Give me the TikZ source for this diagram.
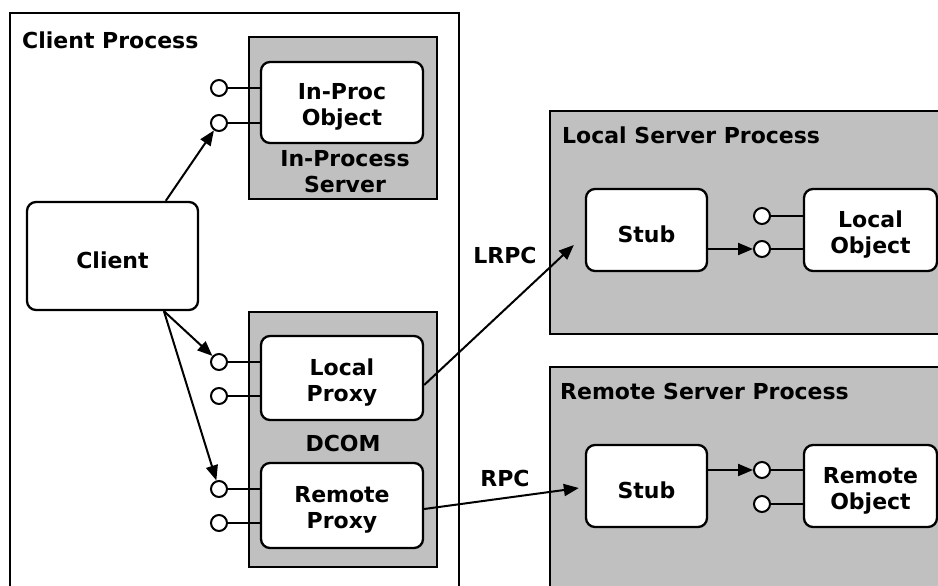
\documentclass[tikz,border=0pt]{standalone}
\usepackage{fontspec}
\setmainfont{DejaVu Sans}
\usetikzlibrary{arrows.meta,calc}
\definecolor{procgray}{HTML}{C0C0C0}
% invisible strut that lowers box labels a little
\newcommand{\lowr}{\rule{0pt}{25pt}}
\begin{document}
\begin{tikzpicture}[x=1pt,y=-1pt,
  lbl/.style={font=\fontsize{22}{26}\selectfont\bfseries, align=center, inner sep=0pt},
  title/.style={lbl, anchor=west},
  procbox/.style={draw=black, line width=2.3pt, fill=procgray},
  objbox/.style={draw=black, line width=2.3pt, fill=white, rounded corners=9pt,
    lbl, minimum width=#1},
  objbox/.default=162pt,
  iface/.style={circle, draw=black, line width=2pt, fill=white, inner sep=0pt, minimum size=16pt},
  stem/.style={line width=2.2pt},
  arr/.style={line width=2pt, -{Triangle[length=15pt,width=12pt]}}
]
\useasboundingbox (0,0) rectangle (938,586);
\clip (0,0) rectangle (938,586);
\fill[white] (0,0) rectangle (938,586);

% process containers
\draw[line width=2.3pt] (10,13) rectangle (459,610);
\node[title] (cpt) at (22,40) {Client Process};
\draw[procbox] (249,37) rectangle (437,199);
\draw[procbox] (249,312) rectangle (437,567);
\draw[procbox] (550,111) rectangle (950,334);
\draw[procbox] (550,367) rectangle (950,610);
\node[title] (lspt) at (562,135) {Local Server Process};
\node[title] (rspt) at (560,391) {Remote Server Process};

\node[lbl] (ipst) at (345,172) {In-Process\\Server};
\node[lbl] (dcomt) at (343,443) {DCOM};

% objects
\node[objbox, minimum height=81pt] (inproc) at (342,102.5) {\lowr In-Proc\\Object};
\node[objbox, minimum height=84pt] (lproxy) at (342,378) {\lowr Local\\Proxy};
\node[objbox, minimum height=85pt] (rproxy) at (342,505.5) {\lowr Remote\\Proxy};
\node[objbox=171pt, minimum height=108pt] (client) at (112.5,256) {\lowr Client};
\node[objbox=121pt, minimum height=82pt] (stubL) at (646.5,230) {\lowr Stub};
\node[objbox=133pt, minimum height=82pt] (lobj) at (870.5,230) {\lowr Local\\Object};
\node[objbox=121pt, minimum height=82pt] (stubR) at (646.5,486) {\lowr Stub};
\node[objbox=133pt, minimum height=82pt] (robj) at (870.5,486) {\lowr Remote\\Object};

% interfaces (lollipops)
\node[iface] (ip1) at (219,88) {};
\node[iface] (ip2) at (219,123) {};
\node[iface] (lp1) at (219,362) {};
\node[iface] (lp2) at (219,396) {};
\node[iface] (rp1) at (219,489) {};
\node[iface] (rp2) at (219,523) {};
\node[iface] (lo1) at (762,216) {};
\node[iface] (lo2) at (762,249) {};
\node[iface] (ro1) at (762,470) {};
\node[iface] (ro2) at (762,504) {};

\foreach \i/\b in {ip1/inproc, ip2/inproc, lp1/lproxy, lp2/lproxy, rp1/rproxy, rp2/rproxy,
                   lo1/lobj, lo2/lobj, ro1/robj, ro2/robj}
  \draw[stem] (\i.east) -- (\i.east -| \b.west);

% calls
\draw[arr] (client.46) -- (ip2);
\coordinate (cb) at (client.-47);
\draw[arr] (cb) -- (lp1);
\draw[arr] (cb) -- (rp1);
\draw[arr] (stubL.east |- lo2) -- (lo2);
\draw[arr] (stubR.east |- ro1) -- (ro1);
\draw[arr] ([yshift=-7pt]lproxy.east) -- ([xshift=-11pt,yshift=-15pt]stubL.west);
\draw[arr] ([yshift=-3.5pt]rproxy.east) -- ([xshift=-6pt,yshift=-2pt]stubR.west);

\node[lbl] (lrpc) at (505,255) {LRPC};
\node[lbl] (rpc) at (505,478) {RPC};
\end{tikzpicture}
\end{document}
